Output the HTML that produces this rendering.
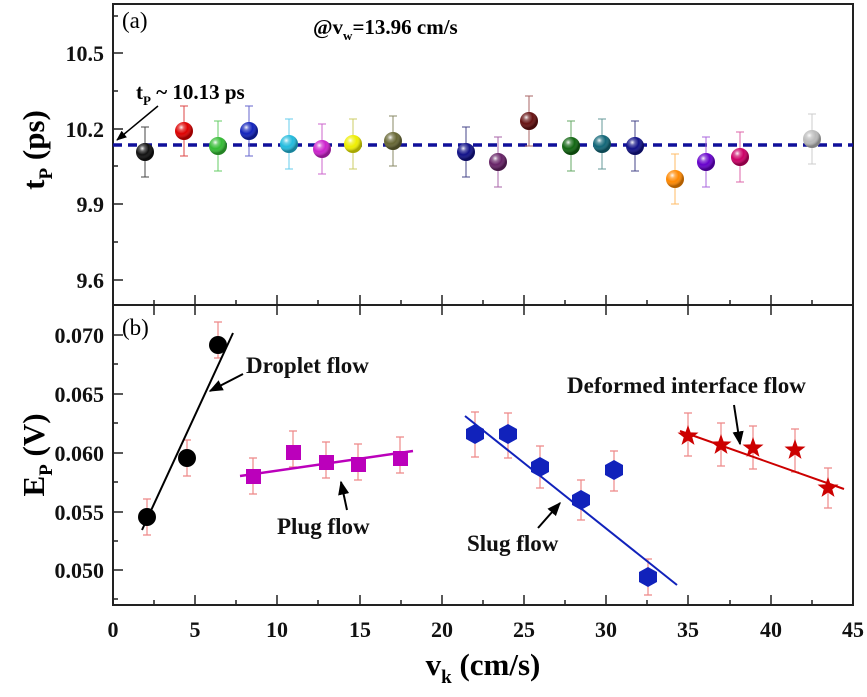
<!DOCTYPE html>
<html><head><meta charset="utf-8"><style>html,body{margin:0;padding:0;background:#fff}svg{display:block}text{font-family:"Liberation Serif",serif;font-weight:bold}</style></head><body>
<svg width="867" height="697" viewBox="0 0 867 697" xmlns="http://www.w3.org/2000/svg">
<defs>
<radialGradient id="hl" cx="0.35" cy="0.3" r="0.6"><stop offset="0" stop-color="#fff" stop-opacity="0.95"/><stop offset="0.25" stop-color="#fff" stop-opacity="0.35"/><stop offset="0.6" stop-color="#fff" stop-opacity="0"/><stop offset="1" stop-color="#000" stop-opacity="0.3"/></radialGradient>
<marker id="ah" viewBox="0 0 10 10" refX="9" refY="5" markerWidth="7" markerHeight="7" orient="auto"><path d="M0,1 L10,5 L0,9 z" fill="#000"/></marker>
</defs>
<rect x="113" y="4" width="740" height="601" fill="none" stroke="#222" stroke-width="2"/>
<line x1="113" y1="305" x2="853" y2="305" stroke="#222" stroke-width="2"/>
<g stroke="#222" stroke-width="1.5">
<path d="M113,605v-10M154,605v-5M195,605v-10M236,605v-5M277,605v-10M318,605v-5M360,605v-10M401,605v-5M442,605v-10M483,605v-5M524,605v-10M565,605v-5M606,605v-10M647,605v-5M688,605v-10M730,605v-5M771,605v-10M812,605v-5"/>
<path d="M154,305v-5M195,305v-10M236,305v-5M277,305v-10M318,305v-5M360,305v-10M401,305v-5M442,305v-10M483,305v-5M524,305v-10M565,305v-5M606,305v-10M647,305v-5M688,305v-10M730,305v-5M771,305v-10M812,305v-5"/>
<path d="M154,305v10M195,305v10M277,305v10M360,305v10M442,305v10M524,305v10M606,305v10M688,305v10M771,305v10"/>
<path d="M113,53h10M113,91h5M113,129h10M113,166h5M113,204h10M113,242h5M113,280h10M113,16h5"/>
<path d="M113,335h10M113,364h5M113,394h10M113,423h5M113,453h10M113,482h5M113,512h10M113,541h5M113,570h10M113,599h5"/>
</g>
<g font-size="22" text-anchor="end" fill="#111">
<text x="104" y="61">10.5</text><text x="104" y="137">10.2</text><text x="104" y="212">9.9</text><text x="104" y="288">9.6</text>
<text x="104" y="343">0.070</text><text x="104" y="402">0.065</text><text x="104" y="461">0.060</text><text x="104" y="520">0.055</text><text x="104" y="578">0.050</text>
</g>
<g font-size="22" text-anchor="middle" fill="#111">
<text x="113" y="637">0</text><text x="195" y="637">5</text><text x="277" y="637">10</text><text x="360" y="637">15</text><text x="442" y="637">20</text><text x="524" y="637">25</text><text x="606" y="637">30</text><text x="688" y="637">35</text><text x="771" y="637">40</text><text x="853" y="637">45</text>
</g>
<text x="483" y="675" font-size="31" text-anchor="middle">v<tspan font-size="19" dy="8">k</tspan><tspan dy="-8"> (cm/s)</tspan></text>
<text transform="translate(44,150) rotate(-90)" font-size="31" text-anchor="middle">t<tspan font-size="19" dy="8">P</tspan><tspan dy="-8"> (ps)</tspan></text>
<text transform="translate(44,455) rotate(-90)" font-size="31" text-anchor="middle">E<tspan font-size="19" dy="8">P</tspan><tspan dy="-8"> (V)</tspan></text>
<text x="122" y="28" font-size="23" style="font-weight:normal">(a)</text>
<text x="122" y="335" font-size="23" style="font-weight:normal">(b)</text>
<text x="313" y="34" font-size="21">@v<tspan font-size="13" dy="6">w</tspan><tspan dy="-6">=13.96 cm/s</tspan></text>
<text x="136" y="99" font-size="21">t<tspan font-size="13" dy="6">P</tspan><tspan dy="-6"> ~ 10.13 ps</tspan></text>
<line x1="158" y1="106" x2="117" y2="140" stroke="#000" stroke-width="1.5" marker-end="url(#ah)"/>
<line x1="113" y1="145" x2="853" y2="145" stroke="#10109a" stroke-width="3.5" stroke-dasharray="9,6"/>
<g>
<path d="M145,127v50M141,127h8M141,177h8" stroke="#444" fill="none"/><circle cx="145" cy="152" r="9" fill="#111"/>
<path d="M184,106v50M180,106h8M180,156h8" stroke="#d44" fill="none"/><circle cx="184" cy="131" r="9" fill="#d00"/>
<path d="M218,121v50M214,121h8M214,171h8" stroke="#6c6" fill="none"/><circle cx="218" cy="146" r="9" fill="#3b3"/>
<path d="M249,106v50M245,106h8M245,156h8" stroke="#66c" fill="none"/><circle cx="249" cy="131" r="9" fill="#12b"/>
<path d="M289,119v50M285,119h8M285,169h8" stroke="#6ce" fill="none"/><circle cx="289" cy="144" r="9" fill="#2bd"/>
<path d="M322,124v50M318,124h8M318,174h8" stroke="#c6c" fill="none"/><circle cx="322" cy="149" r="9" fill="#c2c"/>
<path d="M353,119v50M349,119h8M349,169h8" stroke="#cc6" fill="none"/><circle cx="353" cy="144" r="9" fill="#ee0"/>
<path d="M393,116v50M389,116h8M389,166h8" stroke="#886" fill="none"/><circle cx="393" cy="141" r="9" fill="#663"/>
<path d="M466,127v50M462,127h8M462,177h8" stroke="#448" fill="none"/><circle cx="466" cy="152" r="9" fill="#118"/>
<path d="M498,137v50M494,137h8M494,187h8" stroke="#a6a" fill="none"/><circle cx="498" cy="162" r="9" fill="#626"/>
<path d="M529,96v50M525,96h8M525,146h8" stroke="#a66" fill="none"/><circle cx="529" cy="121" r="9" fill="#611"/>
<path d="M571,121v50M567,121h8M567,171h8" stroke="#6a6" fill="none"/><circle cx="571" cy="146" r="9" fill="#161"/>
<path d="M602,119v50M598,119h8M598,169h8" stroke="#699" fill="none"/><circle cx="602" cy="144" r="9" fill="#167"/>
<path d="M635,121v50M631,121h8M631,171h8" stroke="#448" fill="none"/><circle cx="635" cy="146" r="9" fill="#118"/>
<path d="M675,154v50M671,154h8M671,204h8" stroke="#fb6" fill="none"/><circle cx="675" cy="179" r="9" fill="#f80"/>
<path d="M706,137v50M702,137h8M702,187h8" stroke="#a6d" fill="none"/><circle cx="706" cy="162" r="9" fill="#60c"/>
<path d="M740,132v50M736,132h8M736,182h8" stroke="#d6a" fill="none"/><circle cx="740" cy="157" r="9" fill="#c06"/>
<path d="M812,114v50M808,114h8M808,164h8" stroke="#ccc" fill="none"/><circle cx="812" cy="139" r="9" fill="#bbb"/>
</g>
<g fill="url(#hl)">
<circle cx="145" cy="152" r="9"/><circle cx="184" cy="131" r="9"/><circle cx="218" cy="146" r="9"/><circle cx="249" cy="131" r="9"/><circle cx="289" cy="144" r="9"/><circle cx="322" cy="149" r="9"/><circle cx="353" cy="144" r="9"/><circle cx="393" cy="141" r="9"/><circle cx="466" cy="152" r="9"/><circle cx="498" cy="162" r="9"/><circle cx="529" cy="121" r="9"/><circle cx="571" cy="146" r="9"/><circle cx="602" cy="144" r="9"/><circle cx="635" cy="146" r="9"/><circle cx="675" cy="179" r="9"/><circle cx="706" cy="162" r="9"/><circle cx="740" cy="157" r="9"/><circle cx="812" cy="139" r="9"/>
</g>
<g stroke="#e88" stroke-width="1.2" fill="none">
<path d="M147,499v36M143,499h8M143,535h8"/>
<path d="M187,440v36M183,440h8M183,476h8"/>
<path d="M218,322v36M214,322h8M214,358h8"/>
<path d="M253,458v36M249,458h8M249,494h8"/>
<path d="M293,431v36M289,431h8M289,467h8"/>
<path d="M326,442v36M322,442h8M322,478h8"/>
<path d="M358,444v36M354,444h8M354,480h8"/>
<path d="M400,437v36M396,437h8M396,473h8"/>
<path d="M475,412v45M471,412h8M471,457h8"/>
<path d="M508,413v45M504,413h8M504,458h8"/>
<path d="M540,446v42M536,446h8M536,488h8"/>
<path d="M581,480v40M577,480h8M577,520h8"/>
<path d="M614,451v40M610,451h8M610,491h8"/>
<path d="M648,559v36M644,559h8M644,595h8"/>
<path d="M688,413v43M684,413h8M684,456h8"/>
<path d="M721,423v43M717,423h8M717,466h8"/>
<path d="M753,426v43M749,426h8M749,469h8"/>
<path d="M795,429v43M791,429h8M791,472h8"/>
<path d="M828,468v40M824,468h8M824,508h8"/>
</g>
<line x1="142" y1="530" x2="233" y2="333" stroke="#000" stroke-width="2"/>
<line x1="240" y1="476" x2="413" y2="451" stroke="#b0b" stroke-width="2.5"/>
<line x1="465" y1="416" x2="677" y2="585" stroke="#12b" stroke-width="2"/>
<line x1="680" y1="431" x2="844" y2="489" stroke="#c00" stroke-width="2"/>
<g fill="#000"><circle cx="147" cy="517" r="9"/><circle cx="187" cy="458" r="9"/><circle cx="218" cy="345" r="9"/></g>
<g fill="#b0b"><rect x="246" y="469" width="15" height="15"/><rect x="286" y="445" width="15" height="15"/><rect x="319" y="455" width="15" height="15"/><rect x="351" y="457" width="15" height="15"/><rect x="393" y="451" width="15" height="15"/></g>
<g fill="#12b">
<polygon points="475,424 484,429 484,439 475,444 466,439 466,429"/>
<polygon points="508,424 517,429 517,439 508,444 499,439 499,429"/>
<polygon points="540,457 549,462 549,472 540,477 531,472 531,462"/>
<polygon points="581,490 590,495 590,505 581,510 572,505 572,495"/>
<polygon points="614,460 623,465 623,475 614,480 605,475 605,465"/>
<polygon points="648,567 657,572 657,582 648,587 639,582 639,572"/>
</g>
<g fill="#c00">
<path d="M0,-11 L2.6,-3.6 L10.5,-3.4 L4.3,1.4 L6.5,8.9 L0,4.5 L-6.5,8.9 L-4.3,1.4 L-10.5,-3.4 L-2.6,-3.6Z" transform="translate(688,436)"/>
<path d="M0,-11 L2.6,-3.6 L10.5,-3.4 L4.3,1.4 L6.5,8.9 L0,4.5 L-6.5,8.9 L-4.3,1.4 L-10.5,-3.4 L-2.6,-3.6Z" transform="translate(721,445)"/>
<path d="M0,-11 L2.6,-3.6 L10.5,-3.4 L4.3,1.4 L6.5,8.9 L0,4.5 L-6.5,8.9 L-4.3,1.4 L-10.5,-3.4 L-2.6,-3.6Z" transform="translate(753,448)"/>
<path d="M0,-11 L2.6,-3.6 L10.5,-3.4 L4.3,1.4 L6.5,8.9 L0,4.5 L-6.5,8.9 L-4.3,1.4 L-10.5,-3.4 L-2.6,-3.6Z" transform="translate(795,450)"/>
<path d="M0,-11 L2.6,-3.6 L10.5,-3.4 L4.3,1.4 L6.5,8.9 L0,4.5 L-6.5,8.9 L-4.3,1.4 L-10.5,-3.4 L-2.6,-3.6Z" transform="translate(828,488)"/>
</g>
<g font-size="23" fill="#111">
<text x="246" y="373">Droplet flow</text>
<text x="277" y="534">Plug flow</text>
<text x="467" y="551">Slug flow</text>
<text x="567" y="393">Deformed interface flow</text>
</g>
<g stroke="#000" stroke-width="2" marker-end="url(#ah)">
<line x1="243" y1="374" x2="210" y2="391"/>
<line x1="347" y1="510" x2="341" y2="482"/>
<line x1="538" y1="528" x2="560" y2="503"/>
<line x1="734" y1="405" x2="740" y2="444"/>
</g>
</svg>
</body></html>
